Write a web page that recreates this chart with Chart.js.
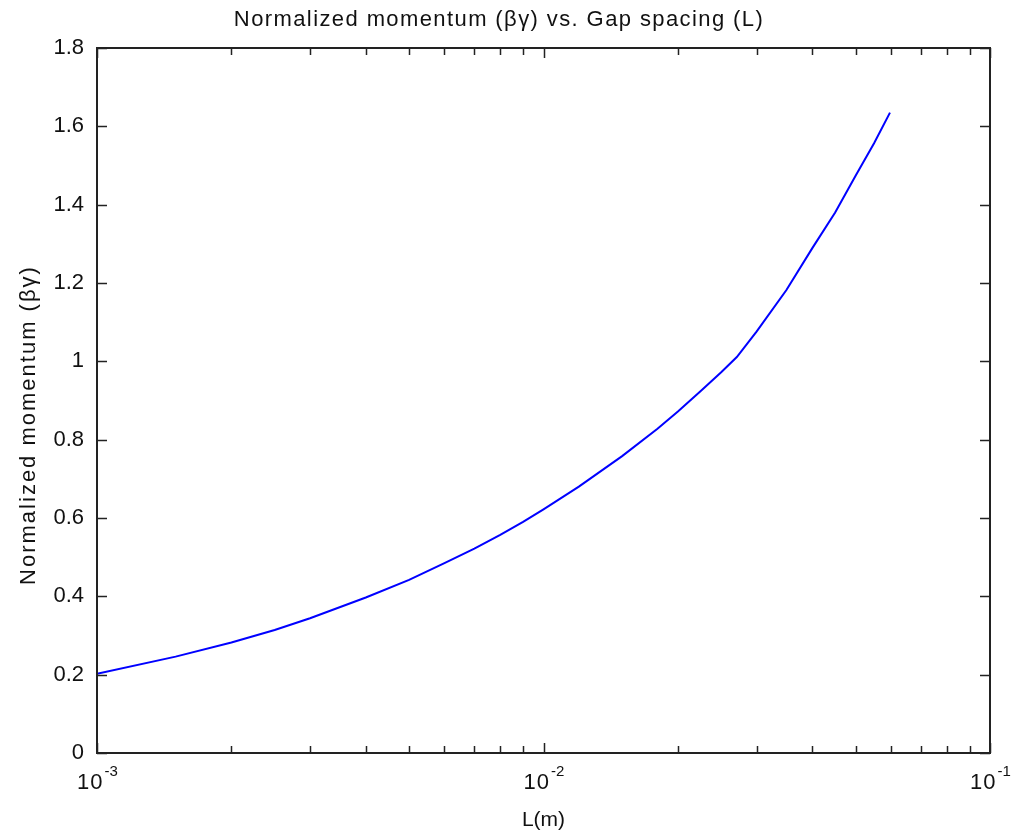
<!DOCTYPE html>
<html>
<head>
<meta charset="utf-8">
<title>Normalized momentum vs. Gap spacing</title>
<script src="https://cdn.jsdelivr.net/npm/chart.js@4.4.1/dist/chart.umd.min.js"></script>
<style>
    html, body { margin: 0; padding: 0; background: #fff; }
    #wrap { width: 1012px; height: 836px; }
</style>
</head>
<body>
<div id="wrap"><canvas id="momentumChart" width="1012" height="836"></canvas></div>
<script>
// Gap spacing L (m) and the resulting normalized momentum (beta*gamma)
const gapSpacing = [0.001, 0.0015, 0.002, 0.0025, 0.003, 0.004, 0.005, 0.006, 0.007, 0.008,
    0.009, 0.010, 0.012, 0.015, 0.018, 0.020, 0.0225, 0.025, 0.0271, 0.030,
    0.035, 0.040, 0.045, 0.050, 0.055, 0.0597];
const momentum = [0.202, 0.246, 0.282, 0.314, 0.344, 0.397, 0.442, 0.485, 0.522, 0.557,
    0.590, 0.622, 0.680, 0.758, 0.828, 0.872, 0.924, 0.972, 1.011, 1.076,
    1.182, 1.289, 1.380, 1.474, 1.557, 1.635];

// Axis ticks
const yTicks = [0, 0.2, 0.4, 0.6, 0.8, 1, 1.2, 1.4, 1.6, 1.8];
const xDecades = [-3, -2, -1];

const chartTitle = "Normalized momentum (\u03B2\u03B3) vs. Gap spacing (L)";
const xTitle = "L(m)";
const yTitle = "Normalized momentum (\u03B2\u03B3)";

document.addEventListener("DOMContentLoaded", function () {
    const siteFont = "'Liberation Sans', Arial, Helvetica, sans-serif";
    const textColor = "#111";

    // Boxed axes with inward ticks, x labels as powers of ten, titles
    const boxedAxes = {
        id: "boxedAxes",
        afterDraw(chart) {
            const ctx = chart.ctx;
            const area = chart.chartArea;
            const xs = chart.scales.x;
            const ys = chart.scales.y;
            const majorLen = 10;
            const minorLen = 7;

            ctx.save();
            ctx.strokeStyle = "#222";
            ctx.lineWidth = 1.5;
            ctx.beginPath();

            // y ticks on left and right sides
            yTicks.forEach((v) => {
                const py = Math.round(ys.getPixelForValue(v)) + 0.5;
                ctx.moveTo(area.left, py);
                ctx.lineTo(area.left + majorLen, py);
                ctx.moveTo(area.right, py);
                ctx.lineTo(area.right - majorLen, py);
            });

            // log ticks on bottom and top
            xDecades.forEach((d) => {
                const maxM = d === xDecades[xDecades.length - 1] ? 1 : 9;
                for (let m = 1; m <= maxM; m++) {
                    const px = Math.round(xs.getPixelForValue(m * Math.pow(10, d))) + 0.5;
                    const len = m === 1 ? majorLen : minorLen;
                    ctx.moveTo(px, area.bottom);
                    ctx.lineTo(px, area.bottom - len);
                    ctx.moveTo(px, area.top);
                    ctx.lineTo(px, area.top + len);
                }
            });
            ctx.stroke();

            ctx.lineWidth = 2;
            ctx.strokeRect(area.left, area.top, area.right - area.left, area.bottom - area.top);

            // x tick labels: 10 with a raised exponent
            ctx.fillStyle = textColor;
            ctx.textBaseline = "alphabetic";
            ctx.textAlign = "left";
            xDecades.forEach((d) => {
                const px = xs.getPixelForValue(Math.pow(10, d));
                ctx.font = "22px " + siteFont;
                ctx.letterSpacing = "1px";
                const baseW = ctx.measureText("10").width;
                ctx.font = "15px " + siteFont;
                ctx.letterSpacing = "0px";
                const expW = ctx.measureText(String(d)).width;
                const x0 = px - (baseW + expW) / 2;
                ctx.font = "22px " + siteFont;
                ctx.letterSpacing = "1px";
                ctx.fillText("10", x0, 789);
                ctx.font = "15px " + siteFont;
                ctx.letterSpacing = "0px";
                ctx.fillText(String(d), x0 + baseW + 1, 776);
            });

            // x axis title
            ctx.textAlign = "center";
            ctx.font = "21px " + siteFont;
            ctx.fillText(xTitle, (area.left + area.right) / 2, 826);

            // chart title
            ctx.font = "22px " + siteFont;
            ctx.letterSpacing = "1.4px";
            ctx.textBaseline = "middle";
            ctx.fillText(chartTitle, 499, 20);

            // y axis title, rotated
            ctx.translate(29, 425);
            ctx.rotate(-Math.PI / 2);
            ctx.letterSpacing = "2px";
            ctx.fillText(yTitle, 0, 0);
            ctx.restore();
        },
    };

    const points = gapSpacing.map((x, i) => ({ x: x, y: momentum[i] }));

    const ctx = document.getElementById("momentumChart").getContext("2d");
    new Chart(ctx, {
        type: "line",
        data: {
            datasets: [
                {
                    data: points,
                    borderColor: "rgb(0, 0, 255)",
                    borderWidth: 2,
                    pointRadius: 0,
                    fill: false,
                    tension: 0,
                },
            ],
        },
        options: {
            responsive: false,
            animation: false,
            devicePixelRatio: 1,
            layout: {
                padding: { left: 0, right: 22, top: 48, bottom: 83 },
            },
            plugins: {
                legend: { display: false },
                tooltip: { enabled: false },
                title: { display: false },
            },
            scales: {
                x: {
                    type: "logarithmic",
                    min: 0.001,
                    max: 0.1,
                    grid: { display: false },
                    border: { display: false },
                    ticks: { display: false },
                    afterFit: (scale) => {
                        scale.height = 0;
                    },
                },
                y: {
                    type: "linear",
                    min: 0,
                    max: 1.8,
                    grid: { display: false, drawTicks: false },
                    border: { display: false },
                    afterFit: (scale) => {
                        scale.width = 97;
                    },
                    afterBuildTicks: (scale) => {
                        scale.ticks = yTicks.map((v) => ({ value: v }));
                    },
                    ticks: {
                        padding: 13,
                        color: textColor,
                        font: { size: 22, family: siteFont },
                        callback: (v) => String(+v.toFixed(1)),
                    },
                },
            },
        },
        plugins: [boxedAxes],
    });
});
</script>
</body>
</html>
